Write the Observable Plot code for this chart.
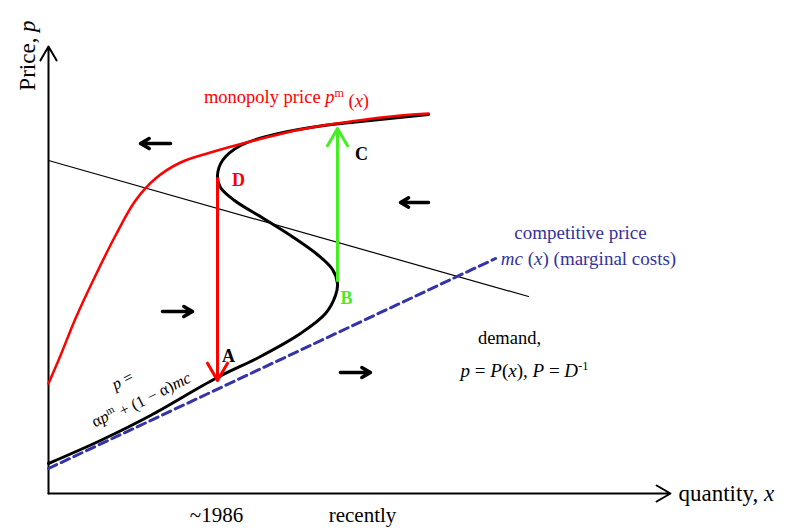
<!DOCTYPE html>
<html>
<head>
<meta charset="utf-8">
<script src="https://cdn.jsdelivr.net/npm/d3@7"></script>
<script src="https://cdn.jsdelivr.net/npm/@observablehq/plot@0.6"></script>
<style>
  html, body { margin: 0; padding: 0; background: #fff; }
  #chart svg { display: block; }
</style>
</head>
<body>
<div id="chart"></div>
<script>
// Schematic units: x = quantity (0 at the price axis), y = price (0 at the quantity axis)
// Monopoly price curve p^m(x)
const monoX = [0, 12, 27, 47, 67, 87, 107, 132, 162, 202, 252, 302, 352, 380];
const monoY = [110, 138, 175, 218, 258, 293, 315, 331, 341, 352, 364, 372, 378, 380];
// Observed price path (S-shaped), from the lower left up to the top right
const pathX = [0, 52, 102, 167, 212, 252, 277, 287, 289, 284, 270, 245, 215, 186, 172, 169, 174, 192, 222, 262, 312, 380];
const pathY = [30, 53, 78, 115, 137, 160, 180, 198, 210, 224, 238, 256, 275, 293, 306, 318, 333, 348, 358, 366, 372, 379];
// Demand line p = P(x)
const demandX = [0, 480];
const demandY = [333, 197];
// Competitive price mc(x)
const mcX = [0, 447];
const mcY = [25, 235];
// Jumps: D -> A (red), B -> C (green)
const jumpLabels = ["D→A", "B→C"];
const jumpX1 = [169, 289];
const jumpY1 = [315, 213];
const jumpX2 = [169, 289];
const jumpY2 = [113, 365];
const jumpColors = ["#ff0000", "#44ee22"];
// Direction arrows (dynamics)
const dirX1 = [122, 380, 114, 292];
const dirY1 = [350, 291, 182, 121];
const dirX2 = [92, 352, 144, 322];
const dirY2 = [350, 291, 182, 121];
// Point labels
const ptNames = ["A", "B", "C", "D"];
const ptX = [180, 298, 313, 190];
const ptY = [137, 195, 339, 313];
const ptColors = ["#000000", "#44ee22", "#000000", "#ff0000"];
// Tick labels under the quantity axis
const tickNames = ["~1986", "recently"];
const tickX = [168, 314];

const mono = monoX.map((x, i) => ({x, y: monoY[i]}));
const path = pathX.map((x, i) => ({x, y: pathY[i]}));
const demand = demandX.map((x, i) => ({x, y: demandY[i]}));
const mc = mcX.map((x, i) => ({x, y: mcY[i]}));
const jumps = jumpLabels.map((k, i) => ({k, x1: jumpX1[i], y1: jumpY1[i], x2: jumpX2[i], y2: jumpY2[i], c: jumpColors[i]}));
const dirs = dirX1.map((x1, i) => ({x1, y1: dirY1[i], x2: dirX2[i], y2: dirY2[i]}));
const pts = ptNames.map((t, i) => ({t, x: ptX[i], y: ptY[i], c: ptColors[i]}));
const ticks = tickNames.map((t, i) => ({t, x: tickX[i]}));

const serif = "'Liberation Serif', 'DejaVu Serif', serif";

const plot = Plot.plot({
  width: 789,
  height: 530,
  marginLeft: 48,
  marginRight: 0,
  marginTop: 0,
  marginBottom: 37,
  x: {domain: [0, 741], axis: null},
  y: {domain: [0, 493], axis: null},
  style: {fontFamily: serif, background: "#fff"},
  marks: [
    // axes
    Plot.arrow([{x1: 0, y1: 0, x2: 0, y2: 447}], {x1: "x1", y1: "y1", x2: "x2", y2: "y2", stroke: "#000", strokeWidth: 2, headLength: 12}),
    Plot.arrow([{x1: 0, y1: 0, x2: 622, y2: 0}], {x1: "x1", y1: "y1", x2: "x2", y2: "y2", stroke: "#000", strokeWidth: 2, headLength: 12}),
    // demand
    Plot.line(demand, {x: "x", y: "y", stroke: "#000", strokeWidth: 1.2}),
    // competitive price
    Plot.line(mc, {x: "x", y: "y", stroke: "#3333aa", strokeWidth: 3, strokeDasharray: "9,5"}),
    // price path
    Plot.line(path, {x: "x", y: "y", stroke: "#000", strokeWidth: 3, curve: "catmull-rom"}),
    // monopoly price
    Plot.line(mono, {x: "x", y: "y", stroke: "#ff0000", strokeWidth: 2.5, curve: "catmull-rom"}),
    // jumps
    Plot.arrow(jumps, {x1: "x1", y1: "y1", x2: "x2", y2: "y2", stroke: "c", strokeWidth: 3, headLength: 10}),
    // direction arrows
    Plot.arrow(dirs, {x1: "x1", y1: "y1", x2: "x2", y2: "y2", stroke: "#000", strokeWidth: 3.5, headLength: 9}),
    // point labels
    Plot.text(pts, {x: "x", y: "y", text: "t", fill: "c", fontSize: 18, fontWeight: "bold"}),
    // tick labels
    Plot.text(ticks, {x: "x", y: -22, text: "t", fontSize: 21, fill: "#000"}),
    // axis titles
    Plot.text(["Price, {i:p}"], {x: -21, y: 438, text: d => d, rotate: -90, fontSize: 23, fill: "#000"}),
    Plot.text(["quantity, {i:x}"], {x: 630, y: 0, text: d => d, textAnchor: "start", fontSize: 23, fill: "#000"}),
    // curve labels
    Plot.text(["monopoly price {i:p}{sup:m} ({i:x})"], {x: 238, y: 396, text: d => d, fontSize: 18.5, fill: "#ff0000"}),
    Plot.text(["competitive price"], {x: 532, y: 261, text: d => d, fontSize: 19, fill: "#333399"}),
    Plot.text(["{i:mc} ({i:x}) (marginal costs)"], {x: 540, y: 235, text: d => d, fontSize: 19, fill: "#333399"}),
    Plot.text(["demand,"], {x: 461, y: 155, text: d => d, fontSize: 18.5, fill: "#000"}),
    Plot.text(["{i:p} = {i:P}({i:x}), {i:P} = {i:D}{sup:-1}"], {x: 476, y: 123, text: d => d, fontSize: 19, fill: "#000"}),
    Plot.text(["{i:p} ="], {x: 74, y: 113, text: d => d, rotate: -27, fontSize: 16.5, fill: "#000"}),
    Plot.text(["α{i:p}{sup:m} + (1 − α){i:mc}"], {x: 92, y: 95, text: d => d, rotate: -27, fontSize: 16.5, fill: "#000"})
  ]
});

// Turn simple {i:..}/{sup:..} markup into tspans (italics, superscripts)
d3.select(plot).selectAll("text").each(function () {
  const el = this;
  const s = el.textContent;
  if (!s.includes("{")) return;
  while (el.firstChild) el.removeChild(el.firstChild);
  const re = /\{(i|sup):([^}]*)\}/g;
  let last = 0, m;
  const add = (txt, kind) => {
    if (!txt) return;
    const t = document.createElementNS("http://www.w3.org/2000/svg", "tspan");
    t.textContent = txt;
    if (kind === "i") t.setAttribute("font-style", "italic");
    if (kind === "sup") {
      t.setAttribute("font-size", "0.65em");
      t.setAttribute("dy", "-0.5em");
    }
    el.appendChild(t);
    return t;
  };
  let pendingReset = false;
  while ((m = re.exec(s)) !== null) {
    const before = s.slice(last, m.index);
    const t0 = add(before, null);
    if (pendingReset && t0) { t0.setAttribute("dy", "0.5em"); pendingReset = false; }
    const t = add(m[2], m[1]);
    if (pendingReset && t && m[1] !== "sup") { t.setAttribute("dy", "0.5em"); pendingReset = false; }
    if (m[1] === "sup") pendingReset = true;
    last = re.lastIndex;
  }
  const tail = add(s.slice(last), null);
  if (pendingReset && tail) tail.setAttribute("dy", "0.5em");
});

document.getElementById("chart").appendChild(plot);
</script>
</body>
</html>
